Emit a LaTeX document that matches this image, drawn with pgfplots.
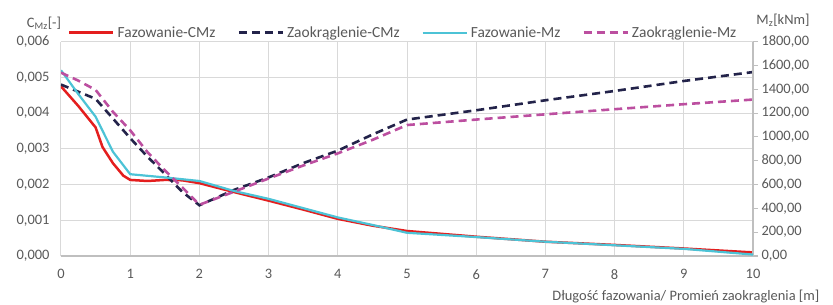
\documentclass[border=0pt]{standalone}
\usepackage{fontspec}
\setmainfont{Carlito}
\usepackage{pgfplots}
\pgfplotsset{compat=1.18}
\definecolor{txt}{HTML}{595959}
\definecolor{grd}{HTML}{D9D9D9}
\definecolor{axl}{HTML}{BFBFBF}
\definecolor{cred}{HTML}{E41E1E}
\definecolor{cnavy}{HTML}{23234A}
\definecolor{ccyan}{HTML}{4CC3D6}
\definecolor{cmag}{HTML}{BC4FA0}
\newcommand\fs{\fontsize{14.5}{17}\selectfont}
\newcommand\fl{\fontsize{15.5}{18}\selectfont}
\tikzset{dsh/.style={dash pattern=on 8bp off 5bp}}
\begin{document}
\begin{tikzpicture}
\useasboundingbox (-61bp,-49bp) rectangle (772bp,256bp);
\begin{axis}[
  scale only axis, width=692bp, height=214.3bp,
  xmin=0, xmax=10, ymin=0, ymax=0.006,
  xtick={0,1,2,3,4,5,6,7,8,9,10},
  ytick={0,0.001,0.002,0.003,0.004,0.005,0.006},
  scaled y ticks=false,
  grid=major, major grid style={grd, line width=1bp},
  axis x line*=bottom, axis y line*=left,
  x axis line style={axl, line width=1.1bp, -},
  y axis line style={grd, line width=1bp, -},
  major tick length=0pt,
  tick label style={font=\fs, text=txt},
  /pgf/number format/assume math mode=true,
  yticklabel style={xshift=-8bp, /pgf/number format/.cd, fixed, fixed zerofill, precision=3, use comma},
  xticklabel style={yshift=-10bp},
  xlabel={Długość fazowania/ Promień zaokraglenia [m]},
  xlabel style={at={(axis description cs:1.101,-0.191)}, anchor=east, font=\fs, text=txt},
  ylabel={C\textsubscript{Mz}[-]},
  ylabel style={at={(axis description cs:-0.0246,1.087)}, anchor=center, rotate=-90, font=\fs, text=txt},
]
\addplot[cred, line width=2.5bp] coordinates {
(0,0.00475) (0.25,0.0042) (0.5,0.0036) (0.6,0.00305) (0.75,0.0026) (0.9,0.00225)
(1,0.00213) (1.25,0.0021) (1.5,0.00213) (1.75,0.00212) (2,0.00204) (2.5,0.00179)
(3,0.00155) (3.5,0.0013) (4,0.00104) (4.5,0.00085) (5,0.0007) (6,0.00054)
(7,0.0004) (8,0.00031) (9,0.00021) (10,0.0001)};
\addplot[cnavy, line width=2.6bp, dsh] coordinates {
(0,0.0048) (0.25,0.0046) (0.5,0.0044) (0.75,0.00385) (1,0.0033) (1.25,0.00278)
(1.5,0.0023) (1.75,0.0018) (2,0.00142) (2.5,0.00185) (3,0.0022) (3.5,0.0026)
(4,0.00295) (4.5,0.0034) (5,0.00382) (6,0.00408) (7,0.00436) (8,0.00462)
(9,0.0049) (10,0.00515)};
\end{axis}
\begin{axis}[
  scale only axis, width=692bp, height=214.3bp,
  xmin=0, xmax=10, ymin=0, ymax=1800,
  axis x line=none, axis y line*=right,
  y axis line style={axl, line width=1.1bp, -},
  ytick={0,200,400,600,800,1000,1200,1400,1600,1800},
  tick align=outside, major tick length=5bp,
  every tick/.style={axl, line width=1.1bp},
  tick label style={font=\fs, text=txt},
  /pgf/number format/assume math mode=true,
  yticklabel style={anchor=west, /pgf/number format/.cd, fixed, fixed zerofill, precision=2, use comma, 1000 sep={}},
  ylabel={M\textsubscript{z}[kNm]},
  ylabel style={at={(axis description cs:1.0434,1.101)}, anchor=center, rotate=-90, font=\fs, text=txt},
  legend columns=4,
  legend style={draw=none, fill=none, font=\fl, text=txt,
    at={(axis description cs:0.0101,1.042)}, anchor=west, inner sep=0pt,
    /tikz/every odd column/.append style={column sep=1bp},
    /tikz/every even column/.append style={column sep=20bp}},
  legend image code/.code={\draw[#1] (0bp,0bp) -- (44bp,0bp);},
]
\addlegendimage{cred, line width=2.5bp}
\addlegendentry{Fazowanie-CMz}
\addlegendimage{cnavy, line width=2.6bp, dsh}
\addlegendentry{Zaokrąglenie-CMz}
\addplot[ccyan, line width=2.2bp] coordinates {
(0,1560) (0.25,1360) (0.5,1170) (0.75,876) (1,687) (1.5,660) (2,630) (2.5,546)
(3,480) (3.5,402) (4,324) (4.5,261) (5,195) (6,159) (7,120) (8,90) (9,60) (10,12)};
\addlegendentry{Fazowanie-Mz}
\addplot[cmag, line width=2.6bp, dsh] coordinates {
(0,1540) (0.25,1473) (0.5,1395) (0.75,1211) (1,1056) (1.25,872) (1.5,720)
(1.75,578) (2,430) (2.5,540) (3,651) (3.5,760) (4,862) (4.5,975) (5,1100)
(6,1146) (7,1190) (8,1233) (9,1275) (10,1314)};
\addlegendentry{Zaokrąglenie-Mz}
\end{axis}
\end{tikzpicture}
\end{document}
